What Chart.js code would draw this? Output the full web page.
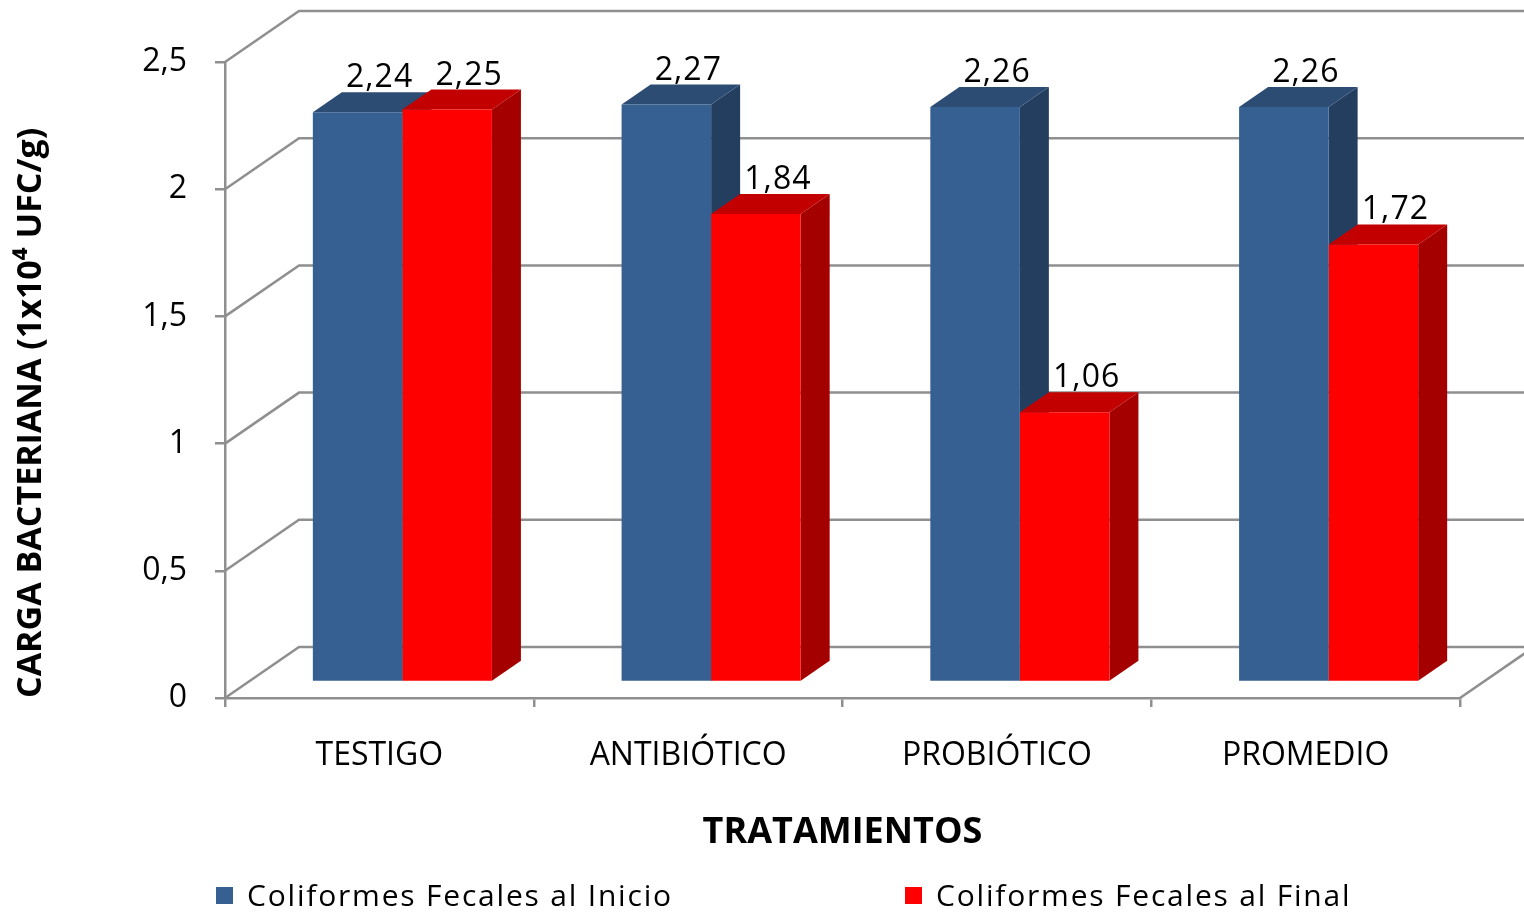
<!DOCTYPE html>
<html>
<head>
<meta charset="utf-8">
<script src="https://cdn.jsdelivr.net/npm/chart.js@4.4.1/dist/chart.umd.min.js"></script>
<style>
  html, body { margin: 0; padding: 0; background: #fff; }
  #grafico { display: block; }
</style>
</head>
<body>
<canvas id="grafico" width="1524" height="912"></canvas>
<script>
// datos
var categorias = ['TESTIGO', 'ANTIBIÓTICO', 'PROBIÓTICO', 'PROMEDIO'];
var inicio = [2.24, 2.27, 2.26, 2.26];
var final = [2.25, 1.84, 1.06, 1.72];
var nombresSeries = ['Coliformes Fecales al Inicio', 'Coliformes Fecales al Final'];
var marcasY = [0, 0.5, 1, 1.5, 2, 2.5];

// perspectiva 3D (oblicua, estilo Excel)
var FONDO = { dx: 74, dy: -51 };   // pared del fondo
var BARRA = { dx: 23, dy: -16 };   // plano frontal de las barras
var PROF = { dx: 29, dy: -20 };    // profundidad de cada barra
var GRIS = '#8f8f8f';
var FUENTE = 'Open Sans';

var coma = function (v, d) {
    return (d === undefined ? String(v) : v.toFixed(d)).replace('.', ',');
};

var marco3d = {
    id: 'marco3d',
    beforeDatasetsDraw: function (chart) {
        var ctx = chart.ctx;
        var area = chart.chartArea;
        var y = chart.scales.y;

        // pared del fondo, pared izquierda y piso
        ctx.save();
        ctx.strokeStyle = GRIS;
        ctx.lineWidth = 2.5;
        marcasY.forEach(function (v) {
            var py = y.getPixelForValue(v);
            ctx.beginPath();
            ctx.moveTo(area.left, py);
            ctx.lineTo(area.left + FONDO.dx, py + FONDO.dy);
            ctx.lineTo(chart.width + 30, py + FONDO.dy);
            ctx.stroke();
        });
        ctx.beginPath();
        ctx.moveTo(area.right, area.bottom);
        ctx.lineTo(area.right + FONDO.dx, area.bottom + FONDO.dy);
        ctx.stroke();
        ctx.restore();

        // caras superior y lateral de cada barra
        chart.data.datasets.forEach(function (ds, i) {
            var meta = chart.getDatasetMeta(i);
            meta.data.forEach(function (bar) {
                var p = bar.getProps(['x', 'y', 'base', 'width'], true);
                var x0 = p.x - p.width / 2 + BARRA.dx;
                var x1 = p.x + p.width / 2 + BARRA.dx;
                var top = p.y + BARRA.dy;
                var base = p.base + BARRA.dy;

                ctx.fillStyle = ds.colorLado;
                ctx.beginPath();
                ctx.moveTo(x1, top);
                ctx.lineTo(x1 + PROF.dx, top + PROF.dy);
                ctx.lineTo(x1 + PROF.dx, base + PROF.dy);
                ctx.lineTo(x1, base);
                ctx.closePath();
                ctx.fill();

                ctx.fillStyle = ds.colorTapa;
                ctx.beginPath();
                ctx.moveTo(x0, top);
                ctx.lineTo(x1, top);
                ctx.lineTo(x1 + PROF.dx, top + PROF.dy);
                ctx.lineTo(x0 + PROF.dx, top + PROF.dy);
                ctx.closePath();
                ctx.fill();
            });
        });

        // las caras frontales las dibuja Chart.js, desplazadas al plano de las barras
        ctx.save();
        ctx.translate(BARRA.dx, BARRA.dy);
    },
    afterDatasetsDraw: function (chart) {
        var ctx = chart.ctx;
        ctx.restore();

        // etiquetas de valores
        ctx.save();
        ctx.fillStyle = '#000';
        ctx.font = '32px "' + FUENTE + '"';
        ctx.letterSpacing = '1px';
        ctx.textAlign = 'center';
        ctx.textBaseline = 'alphabetic';
        chart.data.datasets.forEach(function (ds, i) {
            chart.getDatasetMeta(i).data.forEach(function (bar, j) {
                var p = bar.getProps(['x', 'y'], true);
                ctx.fillText(coma(ds.data[j], 2), p.x + BARRA.dx + 22, p.y + BARRA.dy + PROF.dy - 5);
            });
        });
        ctx.restore();
    }
};

var leyenda = {
    id: 'leyenda',
    afterDraw: function (chart) {
        var ctx = chart.ctx;
        var xs = [216, 905];
        ctx.save();
        ctx.font = '30px "' + FUENTE + '"';
        ctx.letterSpacing = '1.8px';
        ctx.textBaseline = 'alphabetic';
        chart.data.datasets.forEach(function (ds, i) {
            ctx.fillStyle = ds.backgroundColor;
            ctx.fillRect(xs[i], 887, 17, 17);
            ctx.fillStyle = '#000';
            ctx.fillText(ds.label, xs[i] + 31, 906);
        });
        ctx.restore();
    }
};

new Chart(document.getElementById('grafico'), {
    type: 'bar',
    data: {
        labels: categorias,
        datasets: [
            {
                label: nombresSeries[0],
                data: inicio,
                backgroundColor: '#376092',
                colorTapa: '#2c4c74',
                colorLado: '#243e60',
                categoryPercentage: 0.58,
                barPercentage: 1
            },
            {
                label: nombresSeries[1],
                data: final,
                backgroundColor: '#ff0000',
                colorTapa: '#c20000',
                colorLado: '#a40000',
                categoryPercentage: 0.58,
                barPercentage: 1
            }
        ]
    },
    options: {
        responsive: false,
        animation: false,
        devicePixelRatio: 1,
        layout: { padding: { left: 0, top: 62, right: 64, bottom: 54 } },
        plugins: {
            legend: { display: false },
            tooltip: { enabled: false }
        },
        scales: {
            x: {
                grid: { drawOnChartArea: false, tickLength: 9, color: GRIS, lineWidth: 2.5, offset: true },
                border: { display: true, color: GRIS, width: 2.5 },
                ticks: { color: '#000', font: { family: FUENTE, size: 32 }, padding: 30, maxRotation: 0, autoSkip: false },
                title: {
                    display: true,
                    text: 'TRATAMIENTOS',
                    color: '#000',
                    font: { family: FUENTE, size: 36, weight: 'bold' },
                    padding: { top: 0, bottom: 4 }
                },
                afterFit: function (s) { s.height = 160; }
            },
            y: {
                min: 0,
                max: 2.5,
                afterBuildTicks: function (s) {
                    s.ticks = marcasY.map(function (v) { return { value: v }; });
                },
                grid: { drawOnChartArea: false, tickLength: 10, color: GRIS, lineWidth: 2.5 },
                border: { display: true, color: GRIS, width: 2.5 },
                ticks: {
                    color: '#000',
                    font: { family: FUENTE, size: 32 },
                    padding: 28,
                    callback: function (v) { return coma(v); }
                },
                title: {
                    display: true,
                    text: 'CARGA BACTERIANA (1x10⁴ UFC/g)',
                    align: 'start',
                    color: '#000',
                    font: { family: FUENTE, size: 34, weight: 'bold' },
                    padding: { top: 11, bottom: 0 }
                },
                afterFit: function (s) { s.width = 225; }
            }
        }
    },
    plugins: [marco3d, leyenda]
});
</script>
</body>
</html>
